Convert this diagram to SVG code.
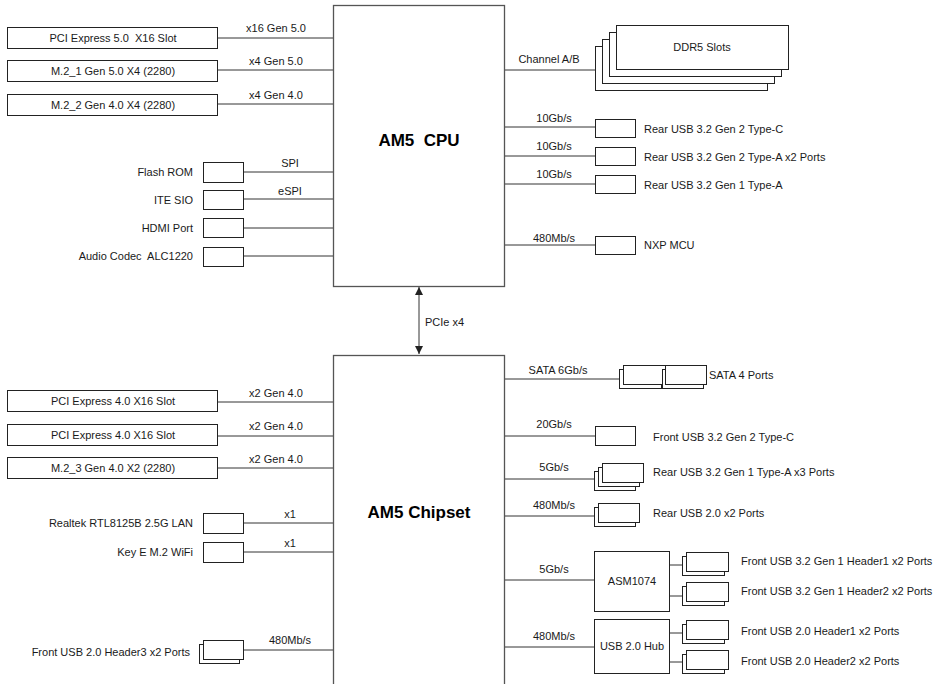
<svg xmlns="http://www.w3.org/2000/svg" width="952" height="684" viewBox="0 0 952 684">
<style>
.bx{fill:#fff;stroke:#222;stroke-width:1}
.chip{fill:#fff;stroke:#555;stroke-width:1.3}
.ln{stroke:#333;stroke-width:1;fill:none}
text{font-family:"Liberation Sans",Arial,sans-serif;font-size:11px;fill:#1a1a1a;white-space:pre}
.c{text-anchor:middle}
.r{text-anchor:end}
.big{font-size:17px;font-weight:bold;fill:#000}
</style>
<defs>
<marker id="ah" viewBox="0 0 10 10" refX="10" refY="5" markerWidth="8" markerHeight="8" orient="auto-start-reverse" markerUnits="userSpaceOnUse">
<path d="M0,0 L10,5 L0,10 z" fill="#222"/>
</marker>
</defs>

<g id="connectors">
<path class="ln" d="M218,38H333M218,70H333M218,104H333M244,172H333M244,199H333M244,228H333M244,256H333"/>
<path class="ln" d="M505,70H595M505,127H595M505,156H595M505,184H595M505,245H595"/>
<line class="ln" x1="419" y1="287" x2="419" y2="354" marker-start="url(#ah)" marker-end="url(#ah)"/>
<path class="ln" d="M218,402H333M218,436H333M218,468H333M244,523H333M244,552H333M244,650H333"/>
<path class="ln" d="M505,379H619M505,436H595M505,479H594M505,516H594M505,580H594M505,647H594"/>
<path class="ln" d="M670,565H682M670,596H682M670,633H682M670,662H682"/>
</g>

<g id="cpu">
<rect class="chip" x="333.5" y="5.5" width="171" height="281"/>
<text class="c big" x="419" y="146" xml:space="preserve">AM5  CPU</text>
</g>
<g id="chipset">
<rect class="chip" x="333.5" y="355.5" width="171" height="340"/>
<text class="c big" x="419" y="518">AM5 Chipset</text>
</g>

<g id="edge-labels">
<text class="c" x="276" y="32">x16 Gen 5.0</text>
<text class="c" x="276" y="65">x4 Gen 5.0</text>
<text class="c" x="276" y="99">x4 Gen 4.0</text>
<text class="c" x="290" y="167">SPI</text>
<text class="c" x="290" y="195">eSPI</text>
<text class="c" x="549" y="63">Channel A/B</text>
<text class="c" x="554" y="122">10Gb/s</text>
<text class="c" x="554" y="150">10Gb/s</text>
<text class="c" x="554" y="178">10Gb/s</text>
<text class="c" x="554" y="242">480Mb/s</text>
<text x="425" y="326">PCIe x4</text>
<text class="c" x="276" y="397">x2 Gen 4.0</text>
<text class="c" x="276" y="430">x2 Gen 4.0</text>
<text class="c" x="276" y="463">x2 Gen 4.0</text>
<text class="c" x="290" y="518">x1</text>
<text class="c" x="290" y="547">x1</text>
<text class="c" x="290" y="644">480Mb/s</text>
<text class="c" x="558" y="374">SATA 6Gb/s</text>
<text class="c" x="554" y="428">20Gb/s</text>
<text class="c" x="554" y="471">5Gb/s</text>
<text class="c" x="554" y="509">480Mb/s</text>
<text class="c" x="554" y="573">5Gb/s</text>
<text class="c" x="554" y="640">480Mb/s</text>
</g>

<g id="pcie5-slot"><rect class="bx" x="7.5" y="27.5" width="210" height="21"/><text class="c" x="113" y="42" xml:space="preserve">PCI Express 5.0  X16 Slot</text></g>
<g id="m2-1"><rect class="bx" x="7.5" y="60.5" width="210" height="21"/><text class="c" x="113" y="75">M.2_1 Gen 5.0 X4 (2280)</text></g>
<g id="m2-2"><rect class="bx" x="7.5" y="94.5" width="210" height="21"/><text class="c" x="113" y="109">M.2_2 Gen 4.0 X4 (2280)</text></g>

<g id="flash-rom"><rect class="bx" x="203.5" y="162.5" width="40" height="20"/><text class="r" x="193" y="176">Flash ROM</text></g>
<g id="ite-sio"><rect class="bx" x="203.5" y="190.5" width="40" height="19"/><text class="r" x="193" y="204">ITE SIO</text></g>
<g id="hdmi"><rect class="bx" x="203.5" y="218.5" width="40" height="19"/><text class="r" x="193" y="232">HDMI Port</text></g>
<g id="audio"><rect class="bx" x="203.5" y="247.5" width="40" height="19"/><text class="r" x="193" y="260" xml:space="preserve">Audio Codec  ALC1220</text></g>

<g id="ddr5">
<rect class="bx" x="595.5" y="46.5" width="172" height="44"/>
<rect class="bx" x="602.5" y="39.5" width="172" height="44"/>
<rect class="bx" x="609.5" y="32.5" width="172" height="44"/>
<rect class="bx" x="616.5" y="25.5" width="172" height="44"/>
<text class="c" x="702" y="51">DDR5 Slots</text>
</g>

<g id="usb-c-rear"><rect class="bx" x="595.5" y="119.5" width="40" height="18"/><text x="644" y="133">Rear USB 3.2 Gen 2 Type-C</text></g>
<g id="usb-a-rear-g2"><rect class="bx" x="595.5" y="147.5" width="40" height="18"/><text x="644" y="161">Rear USB 3.2 Gen 2 Type-A x2 Ports</text></g>
<g id="usb-a-rear-g1"><rect class="bx" x="595.5" y="175.5" width="40" height="18"/><text x="644" y="189">Rear USB 3.2 Gen 1 Type-A</text></g>
<g id="nxp"><rect class="bx" x="595.5" y="236.5" width="40" height="18"/><text x="644" y="249">NXP MCU</text></g>

<g id="pcie4-slot-1"><rect class="bx" x="7.5" y="390.5" width="210" height="21"/><text class="c" x="113" y="405">PCI Express 4.0 X16 Slot</text></g>
<g id="pcie4-slot-2"><rect class="bx" x="7.5" y="424.5" width="210" height="21"/><text class="c" x="113" y="439">PCI Express 4.0 X16 Slot</text></g>
<g id="m2-3"><rect class="bx" x="7.5" y="457.5" width="210" height="21"/><text class="c" x="113" y="472">M.2_3 Gen 4.0 X2 (2280)</text></g>

<g id="lan"><rect class="bx" x="203.5" y="513.5" width="40" height="20"/><text class="r" x="193" y="527">Realtek RTL8125B 2.5G LAN</text></g>
<g id="wifi"><rect class="bx" x="203.5" y="542.5" width="40" height="20"/><text class="r" x="193" y="556">Key E M.2 WiFi</text></g>
<g id="front-usb2-h3">
<rect class="bx" x="199.5" y="644.5" width="40" height="19"/>
<rect class="bx" x="203.5" y="640.5" width="40" height="19"/>
<text class="r" x="190" y="656">Front USB 2.0 Header3 x2 Ports</text>
</g>

<g id="sata">
<rect class="bx" x="619.5" y="369.5" width="42" height="19"/>
<rect class="bx" x="623.5" y="365.5" width="42" height="19"/>
<rect class="bx" x="662.5" y="369.5" width="41" height="19"/>
<rect class="bx" x="665.5" y="365.5" width="41" height="19"/>
<text x="709" y="379">SATA 4 Ports</text>
</g>
<g id="front-usb-c"><rect class="bx" x="595.5" y="426.5" width="40" height="19"/><text x="653" y="441">Front USB 3.2 Gen 2 Type-C</text></g>
<g id="rear-usb-a-x3">
<rect class="bx" x="594.5" y="471.5" width="41" height="19"/>
<rect class="bx" x="598.5" y="467.5" width="41" height="19"/>
<rect class="bx" x="602.5" y="463.5" width="41" height="19"/>
<text x="653" y="476">Rear USB 3.2 Gen 1 Type-A x3 Ports</text>
</g>
<g id="rear-usb2-x2">
<rect class="bx" x="594.5" y="507.5" width="41" height="19"/>
<rect class="bx" x="598.5" y="503.5" width="41" height="19"/>
<text x="653" y="517">Rear USB 2.0 x2 Ports</text>
</g>

<g id="asm1074">
<rect class="bx" x="594.5" y="551.5" width="75" height="60"/>
<text class="c" x="632" y="585">ASM1074</text>
</g>
<g id="front-usb32-h1">
<rect class="bx" x="682.5" y="556.5" width="42" height="19"/>
<rect class="bx" x="686.5" y="552.5" width="42" height="19"/>
<text x="741" y="565">Front USB 3.2 Gen 1 Header1 x2 Ports</text>
</g>
<g id="front-usb32-h2">
<rect class="bx" x="682.5" y="586.5" width="42" height="19"/>
<rect class="bx" x="686.5" y="582.5" width="42" height="19"/>
<text x="741" y="595">Front USB 3.2 Gen 1 Header2 x2 Ports</text>
</g>

<g id="usb2-hub">
<rect class="bx" x="594.5" y="619.5" width="75" height="54"/>
<text class="c" x="632" y="650">USB 2.0 Hub</text>
</g>
<g id="front-usb2-h1">
<rect class="bx" x="682.5" y="624.5" width="42" height="19"/>
<rect class="bx" x="686.5" y="620.5" width="42" height="19"/>
<text x="741" y="635">Front USB 2.0 Header1 x2 Ports</text>
</g>
<g id="front-usb2-h2">
<rect class="bx" x="682.5" y="654.5" width="42" height="19"/>
<rect class="bx" x="686.5" y="650.5" width="42" height="19"/>
<text x="741" y="665">Front USB 2.0 Header2 x2 Ports</text>
</g>
</svg>
